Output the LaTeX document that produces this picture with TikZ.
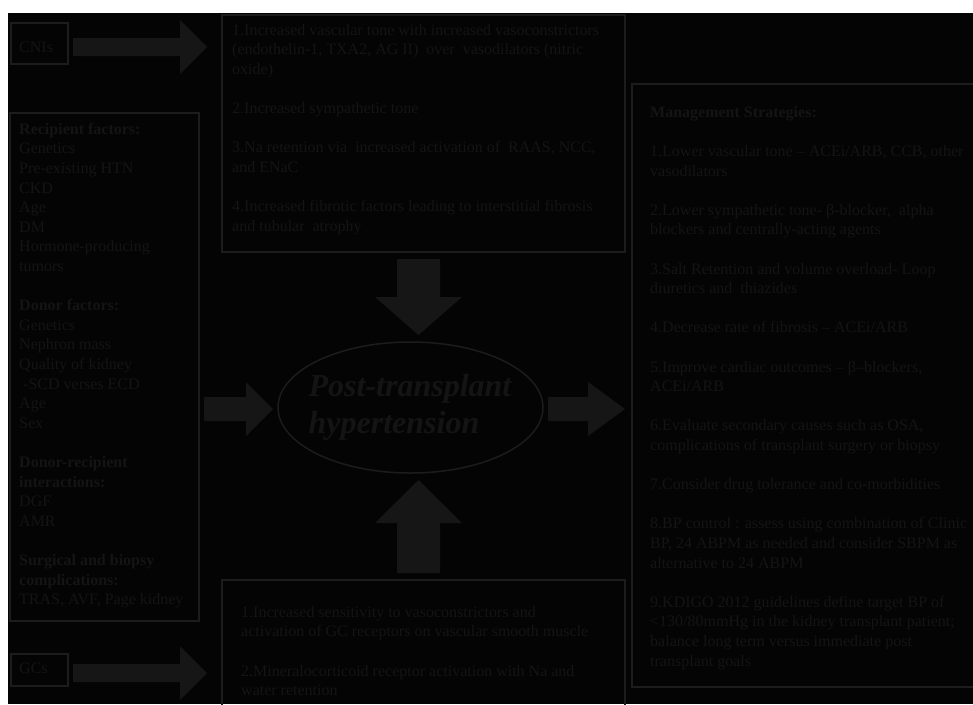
\documentclass[tikz,border=0pt]{standalone}
\usepackage{fontspec}
\setmainfont{Liberation Serif}
\usetikzlibrary{shapes.geometric}
\definecolor{bgc}{gray}{0.015}
\definecolor{linec}{gray}{0.11}
\definecolor{txtc}{gray}{0.08}
\definecolor{arrc}{gray}{0.088}
\begin{document}
\begin{tikzpicture}[x=1pt,y=-1pt,
  box/.style={draw=linec, line width=1.8pt, inner sep=0pt, anchor=north west},
  txt/.style={text=txtc, font=\fontsize{16}{19.6}\selectfont, align=left, inner sep=0pt, anchor=north west},
  lbl/.style={text=txtc, font=\fontsize{16}{19.6}\selectfont, inner sep=0pt, anchor=base west},
  fat/.style={fill=arrc, draw=none},
  oval/.style={ellipse, draw=linec, line width=1.5pt, minimum width=265pt, minimum height=131pt, inner sep=0pt},
  big/.style={text=txtc, font=\fontsize{32}{37}\selectfont\bfseries\itshape, align=left, inner sep=0pt}]
\useasboundingbox (0,0) rectangle (973,704);
\fill[white] (0,0) rectangle (973,704);
\fill[bgc] (8,13) rectangle (973,704);
\begin{scope}
\clip (8,13) rectangle (973,704);
% boxes
\node[box, minimum width=57pt, minimum height=41pt] (cnibox) at (10,22) {};
\node[box, minimum width=403pt, minimum height=237pt] (topbox) at (221,14) {};
\node[box, minimum width=189pt, minimum height=508pt] (leftbox) at (9,112) {};
\node[box, minimum width=350pt, minimum height=603pt] (rightbox) at (631,83) {};
\node[box, minimum width=57pt, minimum height=32pt] (gcbox) at (10,653) {};
\node[box, minimum width=403pt, minimum height=140pt] (botbox) at (221,579) {};
% ellipse
\node[oval] (htn) at (410.5,407.5) {};
\node[big] (htntext) at (410,407) {Post-transplant\\hypertension};
% labels
\node[lbl] (cni) at (19,52.5) {CNIs};
\node[lbl] (gc) at (19,673.5) {GCs};
% text blocks
\node[txt] (toptext) at (232,21.28) {\strut 1.Increased vascular tone with increased vasoconstrictors\\
(endothelin-1, TXA2, AG II)\ \ over\ \ vasodilators (nitric\\
oxide)\\[19.6pt]
2.Increased sympathetic tone\\[19.6pt]
3.Na retention via\ \ increased activation of\ \ RAAS, NCC,\\
and ENaC\\[19.6pt]
4.Increased fibrotic factors leading to interstitial fibrosis\\
and tubular\ \ atrophy};
\node[txt] (lefttext) at (19,120.28) {\strut\textbf{Recipient factors:}\\Genetics\\Pre-existing HTN\\CKD\\Age\\DM\\Hormone-producing\\tumors\\[19.6pt]
\textbf{Donor factors:}\\Genetics\\Nephron mass\\Quality of kidney\\\hspace*{4pt}-SCD verses ECD\\Age\\Sex\\[19.6pt]
\textbf{Donor-recipient}\\\textbf{interactions:}\\DGF\\AMR\\[19.6pt]
\textbf{Surgical and biopsy}\\\textbf{complications:}\\TRAS, AVF, Page kidney};
\node[txt] (righttext) at (650,103.28) {\strut\textbf{Management Strategies:}\\[19.6pt]
1.Lower vascular tone – ACEi/ARB, CCB, other\\vasodilators\\[19.6pt]
2.Lower sympathetic tone- β-blocker,\ \ alpha\\blockers and centrally-acting agents\\[19.6pt]
3.Salt Retention and volume overload- Loop\\diuretics and\ \ thiazides\\[19.6pt]
4.Decrease rate of fibrosis – ACEi/ARB\\[19.6pt]
5.Improve cardiac outcomes – β–blockers,\\ACEi/ARB\\[19.6pt]
6.Evaluate secondary causes such as OSA,\\complications of transplant surgery or biopsy\\[19.6pt]
7.Consider drug tolerance and co-morbidities\\[19.6pt]
8.BP control : assess using combination of Clinic\\BP, 24 ABPM as needed and consider SBPM as\\alternative to 24 ABPM\\[19.6pt]
9.KDIGO 2012 guidelines define target BP of\\<130/80mmHg in the kidney transplant patient;\\balance long term versus immediate post\\transplant goals};
\node[txt] (bottext) at (241,603.28) {\strut 1.Increased sensitivity to vasoconstrictors and\\activation of GC receptors on vascular smooth muscle\\[19.6pt]
2.Mineralocorticoid receptor activation with Na and\\water retention};
% fat arrows
\fill[fat] (73,38) -- (180,38) -- (180,20) -- (207,47) -- (180,74) -- (180,56) -- (73,56) -- cycle;
\fill[fat] (73,664) -- (180,664) -- (180,646) -- (207,673) -- (180,700) -- (180,682) -- (73,682) -- cycle;
\fill[fat] (204,397) -- (246,397) -- (246,382) -- (273,409) -- (246,436) -- (246,421) -- (204,421) -- cycle;
\fill[fat] (548,397) -- (588,397) -- (588,382) -- (625,409) -- (588,436) -- (588,421) -- (548,421) -- cycle;
\fill[fat] (397,259) -- (440,259) -- (440,297) -- (462,297) -- (418.5,335) -- (375,297) -- (397,297) -- cycle;
\fill[fat] (397,573) -- (440,573) -- (440,523) -- (462,523) -- (418.5,480) -- (375,523) -- (397,523) -- cycle;
\end{scope}
\end{tikzpicture}
\end{document}
